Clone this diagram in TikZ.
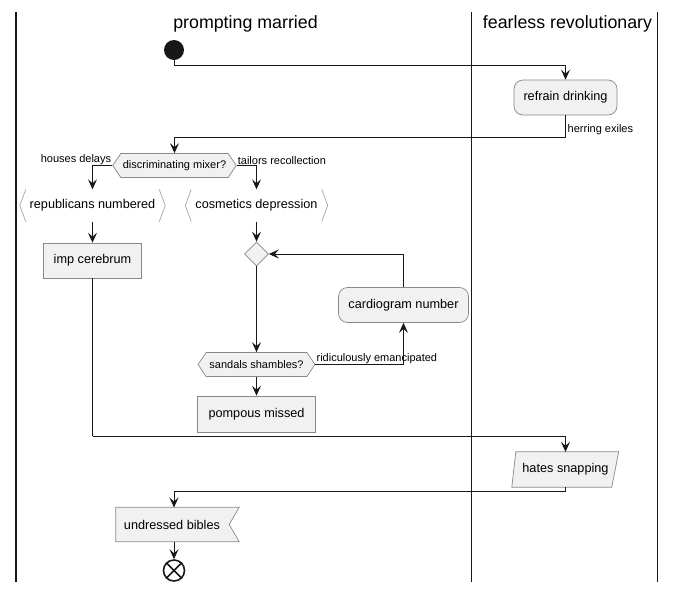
\documentclass[tikz,border=0pt]{standalone}
\usepackage{fontspec}
\setmainfont{Liberation Sans}
\usetikzlibrary{arrows.meta,shapes.symbols,shapes.geometric,calc}
\definecolor{actfill}{HTML}{F1F1F1}
\definecolor{actline}{HTML}{181818}
\definecolor{actborder}{HTML}{888888}
\tikzset{
  x=1pt, y=-1pt,
  lane/.style={line width=1.4pt, draw=actline},
  lanetitle/.style={font=\fontsize{17.8}{20}\selectfont, inner sep=0pt},
  act/.style={draw=actborder, fill=actfill, line width=0.7pt, font=\fontsize{12.7}{14}\selectfont, inner sep=0pt, align=center},
  roundact/.style={act, rounded corners=9pt},
  hexa/.style={draw=actborder, fill=actfill, line width=0.7pt, shape=signal, signal to=west and east, signal pointer angle=112, font=\fontsize{11}{13}\selectfont, inner sep=2pt, minimum height=24pt},
  txt/.style={font=\fontsize{12.7}{14}\selectfont, inner sep=0pt},
  lbl/.style={font=\fontsize{11}{13}\selectfont, inner sep=1pt},
  arr/.style={draw=actline, line width=0.9pt, -{Stealth[length=10pt,width=9pt,inset=4pt]}},
  con/.style={draw=actline, line width=0.9pt},
  brk/.style={draw=black!35, line width=0.7pt},
  shapeline/.style={draw=actborder, fill=actfill, line width=0.7pt},
}
\begin{document}
\begin{tikzpicture}
\useasboundingbox (0,0) rectangle (676,592);
% swimlanes
\draw[lane] (16,12) -- (16,582);
\draw[lane] (471.5,12) -- (471.5,582);
\draw[lane] (657.5,12) -- (657.5,582);
\node[lanetitle] (t1) at (245.5,24) {prompting married};
\node[lanetitle] (t2) at (567.5,24) {fearless revolutionary};

% start
\node[circle, fill=actline, minimum size=20pt, inner sep=0pt] (start) at (174,50) {};

% activities
\node[roundact, minimum width=103pt, minimum height=35pt] (refrain) at (565.5,97.5) {refrain drinking};
\node[hexa, minimum width=123pt] (dm) at (174.5,165.5) {discriminating mixer?};

% republicans numbered (bracket shape)
\node[txt, minimum width=145pt, minimum height=32pt] (rep) at (92.5,205.5) {republicans numbered};
\draw[brk] ($(rep.north west)+(6,0)$) -- (rep.west) -- ($(rep.south west)+(6,0)$);
\draw[brk] ($(rep.north east)+(-6,0)$) -- (rep.east) -- ($(rep.south east)+(-6,0)$);
\node[txt, minimum width=142pt, minimum height=32pt] (cos) at (256.5,205.5) {cosmetics depression};
\draw[brk] ($(cos.north west)+(6,0)$) -- (cos.west) -- ($(cos.south west)+(6,0)$);
\draw[brk] ($(cos.north east)+(-6,0)$) -- (cos.east) -- ($(cos.south east)+(-6,0)$);

\node[act, minimum width=98pt, minimum height=35pt] (imp) at (92.5,260.5) {imp cerebrum};
\node[diamond, shapeline, minimum width=24pt, minimum height=24pt, inner sep=0pt] (merge) at (256.5,254) {};
\node[roundact, minimum width=130pt, minimum height=35pt] (card) at (403.5,305) {cardiogram number};
\node[hexa, minimum width=117pt] (ss) at (256.5,364.5) {sandals shambles?};
\node[act, minimum width=118pt, minimum height=36pt] (pomp) at (256.5,414) {pompous missed};

% hates snapping (parallelogram)
\node[txt, minimum width=100pt, minimum height=35pt] (hates) at (565.5,469.5) {};
\draw[shapeline] ($(hates.north west)+(0.5,0)$) -- ($(hates.north east)+(3,0)$) -- ($(hates.south east)+(-4,0)$) -- ($(hates.south west)+(-3.5,0)$) -- cycle;
\node[txt] (hatestext) at (hates) {hates snapping};

% undressed bibles (flag)
\node[txt, minimum width=123pt, minimum height=34pt] (und) at (177.5,524.5) {};
\draw[shapeline] (und.north west) -- (und.north east) -- ($(und.east)+(-10,0)$) -- (und.south east) -- (und.south west) -- cycle;
\node[txt] (undtext) at (172,524.5) {undressed bibles};

% end
\node[circle, draw=actline, line width=1.6pt, minimum size=21pt, inner sep=0pt] (stop) at (174,570.5) {};
\draw[actline, line width=1.6pt] (stop.north west) -- (stop.south east) (stop.north east) -- (stop.south west);

% coordinates of routing levels
\coordinate (y65) at (0,65.5);
\coordinate (y138) at (0,137.5);
\coordinate (y436) at (0,436);
\coordinate (y491) at (0,491);
\coordinate (undin) at (174,507.5);
\coordinate (undout) at (174,541.5);

% connectors
\draw[con] (start.south) -- (start.south |- y65);
\draw[arr] (start.south |- y65) -| (refrain.north);
\draw[con] (refrain.south) -- (refrain.south |- y138);
\draw[arr] (refrain.south |- y138) -| (dm.north);
\node[lbl, anchor=south west] (lh) at ($(refrain.south |- y138)+(1,-2)$) {herring exiles};

\draw[arr] (dm.west) -| (rep.north);
\node[lbl, anchor=south east] (lhd) at ($(dm.west)+(0,0.5)$) {houses delays};
\draw[arr] (dm.east) -| (cos.north);
\node[lbl, anchor=south west] (ltr) at ($(dm.east)+(0,0.5)$) {tailors recollection};

\draw[arr] (rep.south) -- (imp.north);
\draw[arr] (cos.south) -- (merge.north);
\draw[arr] (merge.south) -- (ss.north);
\draw[arr] (ss.east) -| (card.south);
\node[lbl, anchor=south west] (lre) at ($(ss.east)+(0,0.5)$) {ridiculously emancipated};
\draw[arr] (card.north) |- (merge.east);
\draw[arr] (ss.south) -- (pomp.north);

\draw[con] (imp.south) -- (imp.south |- y436);
\draw[arr] (imp.south |- y436) -| (hates.north);
\draw[con] (hates.south) -- (hates.south |- y491);
\draw[arr] (hates.south |- y491) -| (undin);
\draw[arr] (undout) -- (stop.north);
\end{tikzpicture}
\end{document}
